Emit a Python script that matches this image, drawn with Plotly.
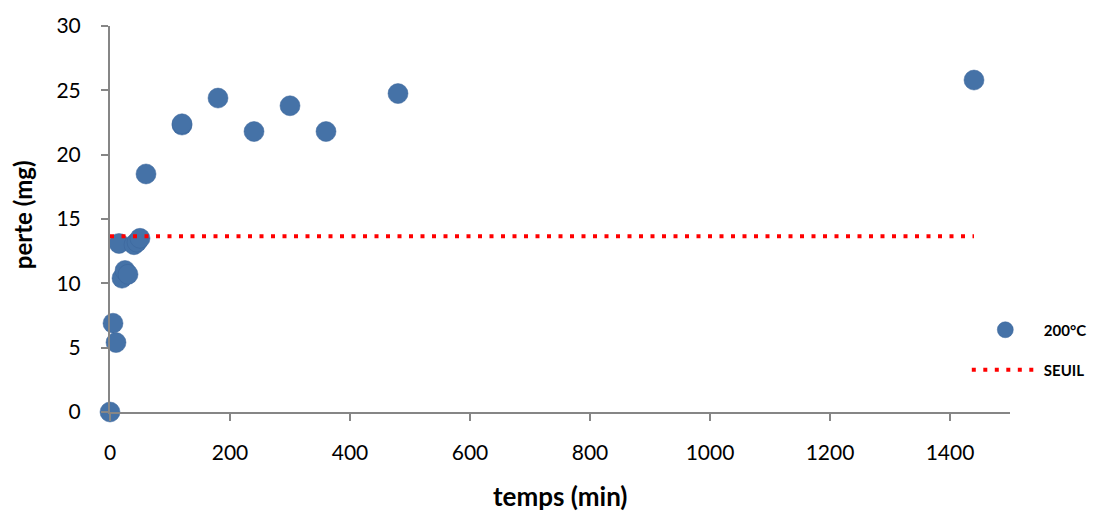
import plotly.graph_objects as go

temps = [0, 5, 10, 15, 20, 25, 30, 40, 45, 50, 60, 120, 120, 180, 240, 300, 360, 480, 1440]
perte = [0, 6.9, 5.4, 13.1, 10.4, 11.0, 10.7, 13.0, 13.2, 13.5, 18.5, 22.3, 22.4, 24.4, 21.8, 23.8, 21.8, 24.75, 25.8]

seuil_x = [0, 1440]
seuil_y = [13.65, 13.65]

x_ticks = [0, 200, 400, 600, 800, 1000, 1200, 1400]
y_ticks = [0, 5, 10, 15, 20, 25, 30]

FONT = "Lato, Open Sans, sans-serif"

fig = go.Figure()
fig.add_trace(go.Scatter(
    x=temps, y=perte, mode="markers", name="200°C",
    marker=dict(size=20, color="#4572A7", line=dict(width=0.5, color="#3b659a")),
    cliponaxis=False, legend="legend",
))
fig.add_trace(go.Scatter(
    x=seuil_x, y=seuil_y, mode="lines", name="SEUIL",
    line=dict(color="#FF0000", width=4, dash="4px,7.5px"),
    cliponaxis=False, legend="legend2",
))

tick_font = dict(family=FONT, size=21, color="#000000")
leg_font = dict(family=FONT, size=15, color="#000000", weight="bold")
leg_common = dict(x=0.952, xanchor="left", yanchor="middle", font=leg_font,
                  bgcolor="rgba(0,0,0,0)", itemwidth=67)

fig.update_layout(
    width=1089, height=504,
    margin=dict(l=102, r=87, t=18, b=100, autoexpand=False),
    paper_bgcolor="white", plot_bgcolor="white",
    font=dict(family=FONT, color="#000000"),
    showlegend=True,
    legend=dict(y=0.2124, **leg_common),
    legend2=dict(y=0.1088, **leg_common),
    xaxis=dict(
        range=[0, 1500], tickvals=x_ticks, automargin=False,
        showgrid=False, zeroline=False, showline=True, linecolor="#868686", linewidth=2,
        ticks="outside", ticklen=7, tickcolor="#868686", tickwidth=2,
        tickfont=tick_font, ticklabelstandoff=14,
    ),
    yaxis=dict(
        range=[0, 30], tickvals=y_ticks, automargin=False,
        showgrid=False, zeroline=False, showline=True, linecolor="#868686", linewidth=2,
        ticks="outside", ticklen=7, tickcolor="#868686", tickwidth=2,
        tickfont=tick_font, ticklabelstandoff=16,
    ),
    annotations=[
        dict(text="<b>temps (min)</b>", xref="paper", yref="paper", x=0.501, y=0,
             xanchor="center", yanchor="middle", yshift=-84, showarrow=False,
             font=dict(family=FONT, size=26, color="#000000")),
        dict(text="<b>perte (mg)</b>", xref="paper", yref="paper", x=0, y=0.51,
             xanchor="center", yanchor="middle", xshift=-88, textangle=-90, showarrow=False,
             font=dict(family=FONT, size=24, color="#000000")),
    ],
)

fig.write_html("out.html")
